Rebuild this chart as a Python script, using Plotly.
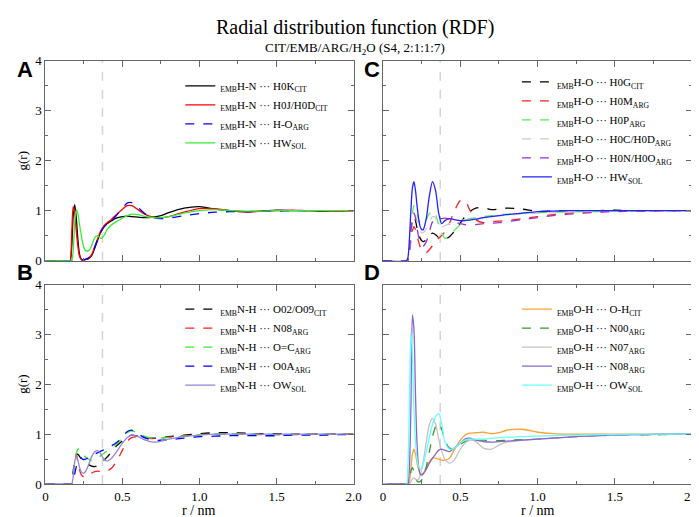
import plotly.graph_objects as go

# shared r grid (nm)
r = [0.00, 0.15, 0.16, 0.17, 0.18, 0.19, 0.20, 0.21, 0.22, 0.23, 0.24, 0.25, 0.26,
     0.28, 0.30, 0.32, 0.34, 0.36, 0.38, 0.40, 0.43, 0.46, 0.50, 0.53, 0.56, 0.60,
     0.65, 0.70, 0.75, 0.80, 0.90, 1.00, 1.10, 1.20, 1.30, 1.40, 1.50, 1.60, 1.70,
     1.80, 1.90, 2.00]

x_tickvals = [0, 0.5, 1.0, 1.5, 2.0]
x_ticktext = ["0", "0.5", "1.0", "1.5", "2.0"]
y_tickvals = [0, 1, 2, 3, 4]

# panel A: EMB H-N
a_h0k_cit = [0, 0, 0, 0.25, 0.9, 1.12, 0.85, 0.45, 0.15, 0.04, 0.01, 0.01, 0.02,
             0.04, 0.1, 0.25, 0.42, 0.58, 0.68, 0.74, 0.8, 0.85, 0.88, 0.89, 0.88, 0.87,
             0.86, 0.87, 0.9, 0.96, 1.05, 1.08, 1.03, 1.0, 0.98, 0.99, 1.01, 1.0, 1.0,
             0.99, 1.0, 1.0]
a_h0j_cit = [0, 0, 0, 0.5, 1.08, 0.95, 0.6, 0.3, 0.1, 0.03, 0.01, 0.01, 0.02,
             0.05, 0.12, 0.28, 0.45, 0.6, 0.7, 0.76, 0.83, 0.92, 1.03, 1.1, 1.1, 1.02,
             0.92, 0.87, 0.86, 0.88, 0.97, 1.04, 1.04, 1.0, 0.97, 0.99, 1.0, 1.01, 1.0,
             1.0, 0.99, 1.0]
a_ho_arg = [0, 0, 0, 0, 0, 0, 0, 0, 0, 0.01, 0.01, 0.02, 0.03,
            0.06, 0.13, 0.27, 0.43, 0.57, 0.67, 0.73, 0.8, 0.9, 1.05, 1.15, 1.16, 1.07,
            0.93, 0.86, 0.84, 0.85, 0.9, 0.94, 0.97, 0.98, 0.98, 0.99, 0.99, 1.0, 1.0,
            1.0, 1.0, 1.0]
a_hw_sol = [0, 0, 0, 0, 0.2, 0.75, 1.02, 0.95, 0.75, 0.55, 0.38, 0.26, 0.2,
            0.2, 0.3, 0.46, 0.5, 0.44, 0.5, 0.62, 0.72, 0.78, 0.85, 0.9, 0.93, 0.92,
            0.88, 0.86, 0.86, 0.88, 0.95, 1.0, 1.02, 1.0, 0.99, 0.99, 1.0, 1.0, 1.0,
            1.0, 1.0, 1.0]

# panel B: EMB N-H
b_o02_cit = [0, 0, 0, 0, 0.25, 0.5, 0.58, 0.6, 0.56, 0.52, 0.48, 0.45, 0.43,
             0.39, 0.36, 0.35, 0.37, 0.42, 0.48, 0.54, 0.65, 0.76, 0.87, 0.95, 0.98, 0.96,
             0.93, 0.92, 0.93, 0.95, 0.98, 1.01, 1.03, 1.03, 1.02, 1.01, 1.01, 1.0, 1.0,
             1.0, 1.0, 1.0]
b_n08_arg = [0, 0, 0, 0, 0.1, 0.5, 0.6, 0.45, 0.3, 0.2, 0.16, 0.14, 0.14,
             0.17, 0.22, 0.25, 0.26, 0.25, 0.25, 0.26, 0.32, 0.45, 0.68, 0.85, 0.93, 0.95,
             0.93, 0.91, 0.92, 0.94, 0.97, 0.99, 1.0, 1.0, 1.0, 0.99, 0.99, 0.99, 1.0,
             1.0, 1.0, 1.0]
b_oc_arg = [0, 0, 0, 0, 0.15, 0.45, 0.62, 0.7, 0.71, 0.67, 0.62, 0.57, 0.54,
            0.5, 0.47, 0.48, 0.52, 0.57, 0.62, 0.66, 0.72, 0.8, 0.93, 1.03, 1.07, 1.02,
            0.95, 0.92, 0.92, 0.93, 0.96, 0.99, 1.01, 1.01, 1.0, 1.0, 0.99, 0.99, 1.0,
            1.0, 1.0, 1.0]
b_o0a_arg = [0, 0, 0, 0, 0.05, 0.2, 0.35, 0.45, 0.52, 0.53, 0.5, 0.49, 0.5,
             0.53, 0.57, 0.6, 0.63, 0.66, 0.69, 0.72, 0.77, 0.83, 0.94, 1.05, 1.08, 1.01,
             0.92, 0.88, 0.88, 0.89, 0.92, 0.95, 0.96, 0.97, 0.97, 0.97, 0.97, 0.98, 0.98,
             0.98, 0.99, 0.99]
b_ow_sol = [0, 0, 0, 0, 0.15, 0.45, 0.55, 0.48, 0.35, 0.26, 0.22, 0.22, 0.25,
            0.38, 0.55, 0.65, 0.67, 0.6, 0.5, 0.46, 0.52, 0.64, 0.82, 0.93, 0.98, 0.95,
            0.88, 0.84, 0.86, 0.9, 0.95, 0.98, 1.0, 1.0, 1.0, 1.0, 1.0, 1.0, 1.0,
            1.0, 1.0, 1.0]

# panel C: EMB H-O
c_h0g_cit = [0, 0, 0, 0.2, 0.55, 0.8, 0.88, 0.8, 0.65, 0.53, 0.45, 0.4, 0.38,
             0.42, 0.5, 0.55, 0.52, 0.46, 0.43, 0.43, 0.48, 0.58, 0.75, 0.88, 0.98, 1.05,
             1.06, 1.02, 1.03, 1.05, 1.03, 0.99, 0.99, 1.0, 1.0, 1.0, 1.01, 1.0, 1.0,
             1.0, 1.0, 1.0]
c_h0m_arg = [0, 0, 0, 0.15, 0.4, 0.6, 0.68, 0.62, 0.5, 0.38, 0.28, 0.21, 0.17,
             0.16, 0.22, 0.3, 0.38, 0.45, 0.5, 0.58, 0.75, 0.98, 1.2, 1.2, 1.02, 0.82,
             0.76, 0.78, 0.79, 0.8, 0.84, 0.88, 0.92, 0.95, 0.97, 0.98, 0.99, 1.0, 1.0,
             1.0, 1.0, 1.0]
c_h0p_arg = [0, 0, 0, 0.2, 0.6, 0.95, 1.1, 1.08, 0.95, 0.82, 0.74, 0.72, 0.73,
             0.82, 0.95, 1.0, 0.92, 0.72, 0.55, 0.45, 0.48, 0.6, 0.72, 0.8, 0.84, 0.86,
             0.88, 0.9, 0.92, 0.93, 0.95, 0.96, 0.97, 0.97, 0.98, 0.98, 0.99, 0.99, 1.0,
             1.0, 1.0, 1.0]
c_h0c_arg = [0, 0, 0, 0.15, 0.5, 0.8, 0.92, 0.9, 0.8, 0.68, 0.6, 0.56, 0.56,
             0.64, 0.78, 0.88, 0.86, 0.74, 0.68, 0.7, 0.74, 0.77, 0.8, 0.82, 0.83, 0.84,
             0.86, 0.88, 0.9, 0.91, 0.93, 0.95, 0.96, 0.97, 0.98, 0.98, 0.99, 0.99, 1.0,
             1.0, 1.0, 1.0]
c_h0n_arg = [0, 0, 0, 0.15, 0.55, 0.85, 0.95, 0.85, 0.65, 0.48, 0.36, 0.3, 0.29,
             0.38, 0.58, 0.78, 0.85, 0.84, 0.84, 0.85, 0.83, 0.78, 0.74, 0.72, 0.71, 0.72,
             0.74, 0.75, 0.76, 0.78, 0.82, 0.86, 0.9, 0.93, 0.95, 0.97, 0.98, 0.99, 0.99,
             1.0, 1.0, 1.0]
c_hw_sol = [0, 0, 0.05, 0.4, 1.0, 1.45, 1.58, 1.4, 1.1, 0.85, 0.68, 0.62, 0.62,
            0.85, 1.3, 1.58, 1.4, 0.95, 0.74, 0.8, 0.84, 0.82, 0.8, 0.8, 0.81, 0.83,
            0.86, 0.88, 0.9, 0.92, 0.95, 0.98, 0.99, 1.0, 1.0, 1.0, 1.0, 1.0, 1.0,
            1.0, 1.0, 1.0]

# panel D: EMB O-H
d_oh_cit = [0, 0, 0, 0.05, 0.3, 0.6, 0.7, 0.6, 0.42, 0.3, 0.22, 0.2, 0.22,
            0.32, 0.45, 0.52, 0.52, 0.5, 0.48, 0.48, 0.52, 0.68, 0.88, 0.98, 1.02, 1.03,
            1.04, 1.01, 1.03, 1.08, 1.1, 1.04, 1.01, 1.0, 1.0, 1.0, 1.0, 1.0, 1.0,
            1.0, 1.0, 1.0]
d_n00_arg = [0, 0, 0, 0.05, 0.25, 0.33, 0.25, 0.12, 0.06, 0.04, 0.05, 0.08, 0.14,
             0.35, 0.65, 0.95, 1.15, 1.22, 1.1, 0.88, 0.72, 0.72, 0.8, 0.85, 0.88, 0.88,
             0.88, 0.87, 0.87, 0.88, 0.89, 0.9, 0.92, 0.94, 0.96, 0.97, 0.98, 0.99, 0.99,
             0.99, 1.0, 1.0]
d_n07_arg = [0, 0, 0, 0, 0.05, 0.1, 0.12, 0.1, 0.08, 0.1, 0.18, 0.3, 0.45,
             0.85, 1.2, 1.32, 1.2, 0.9, 0.65, 0.5, 0.42, 0.48, 0.7, 0.82, 0.88, 0.85,
             0.72, 0.7, 0.78, 0.84, 0.88, 0.9, 0.92, 0.94, 0.96, 0.97, 0.98, 0.99, 0.99,
             1.0, 1.0, 1.0]
d_n08_arg = [0, 0, 0, 0.3, 1.5, 3.4, 3.1, 1.8, 0.8, 0.35, 0.2, 0.18, 0.2,
             0.3, 0.42, 0.52, 0.6, 0.68, 0.7, 0.68, 0.65, 0.72, 0.82, 0.9, 0.92, 0.88,
             0.85, 0.84, 0.85, 0.86, 0.88, 0.9, 0.92, 0.94, 0.96, 0.97, 0.98, 0.99, 0.99,
             1.0, 1.0, 1.0]
d_ow_sol = [0, 0, 0.3, 1.5, 3.05, 2.6, 1.5, 0.85, 0.5, 0.35, 0.3, 0.32, 0.4,
            0.65, 0.95, 1.2, 1.35, 1.42, 1.2, 0.85, 0.7, 0.72, 0.82, 0.88, 0.9, 0.9,
            0.9, 0.92, 0.93, 0.94, 0.95, 0.96, 0.97, 0.98, 0.98, 0.99, 0.99, 1.0, 1.0,
            1.0, 1.0, 1.0]

SERIF = "Liberation Serif, Times New Roman, DejaVu Serif, serif"
SANS = "Liberation Sans, Arial, sans-serif"

panels = {
    "A": ("x", "y", "legend", [
        ("<sub>EMB</sub>H-N ··· H0K<sub>CIT</sub>", a_h0k_cit, "#000000", "solid"),
        ("<sub>EMB</sub>H-N ··· H0J/H0D<sub>CIT</sub>", a_h0j_cit, "#ff0000", "solid"),
        ("<sub>EMB</sub>H-N ··· H-O<sub>ARG</sub>", a_ho_arg, "#0000ff", "dash"),
        ("<sub>EMB</sub>H-N ··· HW<sub>SOL</sub>", a_hw_sol, "#33ee33", "solid"),
    ]),
    "C": ("x2", "y2", "legend2", [
        ("<sub>EMB</sub>H-O ··· H0G<sub>CIT</sub>", c_h0g_cit, "#000000", "dash"),
        ("<sub>EMB</sub>H-O ··· H0M<sub>ARG</sub>", c_h0m_arg, "#ff2020", "dash"),
        ("<sub>EMB</sub>H-O ··· H0P<sub>ARG</sub>", c_h0p_arg, "#55ee55", "dash"),
        ("<sub>EMB</sub>H-O ··· H0C/H0D<sub>ARG</sub>", c_h0c_arg, "#cccccc", "dash"),
        ("<sub>EMB</sub>H-O ··· H0N/H0O<sub>ARG</sub>", c_h0n_arg, "#9933cc", "dash"),
        ("<sub>EMB</sub>H-O ··· HW<sub>SOL</sub>", c_hw_sol, "#2222ff", "solid"),
    ]),
    "B": ("x3", "y3", "legend3", [
        ("<sub>EMB</sub>N-H ··· O02/O09<sub>CIT</sub>", b_o02_cit, "#000000", "dash"),
        ("<sub>EMB</sub>N-H ··· N08<sub>ARG</sub>", b_n08_arg, "#ff2020", "dash"),
        ("<sub>EMB</sub>N-H ··· O=C<sub>ARG</sub>", b_oc_arg, "#33ee33", "dash"),
        ("<sub>EMB</sub>N-H ··· O0A<sub>ARG</sub>", b_o0a_arg, "#0000ff", "dash"),
        ("<sub>EMB</sub>N-H ··· OW<sub>SOL</sub>", b_ow_sol, "#8f86d8", "solid"),
    ]),
    "D": ("x4", "y4", "legend4", [
        ("<sub>EMB</sub>O-H ··· O-H<sub>CIT</sub>", d_oh_cit, "#ffa030", "solid"),
        ("<sub>EMB</sub>O-H ··· N00<sub>ARG</sub>", d_n00_arg, "#339933", "dash"),
        ("<sub>EMB</sub>O-H ··· N07<sub>ARG</sub>", d_n07_arg, "#c4c4c4", "solid"),
        ("<sub>EMB</sub>O-H ··· N08<sub>ARG</sub>", d_n08_arg, "#8866cc", "solid"),
        ("<sub>EMB</sub>O-H ··· OW<sub>SOL</sub>", d_ow_sol, "#66ffff", "solid"),
    ]),
}

fig = go.Figure()
for key, (xa, ya, lg, series) in panels.items():
    for name, vals, col, dash in series:
        fig.add_trace(go.Scatter(
            x=r, y=vals, name=name, mode="lines", xaxis=xa, yaxis=ya, legend=lg,
            line=dict(color=col, dash=dash, width=1.3, shape="spline", smoothing=0.8),
        ))
    # cutoff marker
    fig.add_shape(type="line", xref=xa, yref=ya, x0=0.37, x1=0.37, y0=0, y1=4,
                  line=dict(color="#d4d4d4", width=1.5, dash="dash"), layer="below")

W, H = 699, 517
left_dom = [35 / W, 348 / W]
right_dom = [378 / W, 692 / W]
top_dom = [1 - 253 / H, 1 - 47 / H]
bot_dom = [1 - 483 / H, 1 - 278 / H]

def xax(dom, labels):
    return dict(domain=dom, range=[0, 2], tickvals=x_tickvals, ticktext=x_ticktext,
                showticklabels=labels, ticks="inside", ticklen=6, tickcolor="#666",
                minor=dict(ticks="inside", ticklen=3, dtick=0.25, tickcolor="#666"),
                showline=True, linecolor="#666", linewidth=1, mirror="ticks",
                showgrid=False, zeroline=False,
                tickfont=dict(family=SERIF, size=13, color="black"))

def yax(dom, anchor, labels):
    return dict(domain=dom, range=[0, 4], anchor=anchor, tickvals=y_tickvals,
                showticklabels=labels, ticks="inside", ticklen=6, tickcolor="#666",
                minor=dict(ticks="inside", ticklen=3, dtick=0.5, tickcolor="#666"),
                showline=True, linecolor="#666", linewidth=1, mirror="ticks",
                showgrid=False, zeroline=False,
                tickfont=dict(family=SERIF, size=13, color="black"))

def leg(x, y):
    return dict(x=x, y=y, xanchor="left", yanchor="top", bgcolor="rgba(0,0,0,0)",
                font=dict(family=SERIF, size=11, color="black"), itemwidth=30,
                tracegroupgap=0)

fig.update_layout(
    width=W, height=H, margin=dict(l=0, r=0, t=0, b=0),
    paper_bgcolor="white", plot_bgcolor="white", showlegend=True,
    xaxis=dict(xax(left_dom, False), anchor="y"),
    yaxis=yax(top_dom, "x", True),
    xaxis2=dict(xax(right_dom, False), anchor="y2"),
    yaxis2=yax(top_dom, "x2", False),
    xaxis3=dict(xax(left_dom, True), anchor="y3"),
    yaxis3=yax(bot_dom, "x3", True),
    xaxis4=dict(xax(right_dom, True), anchor="y4"),
    yaxis4=yax(bot_dom, "x4", False),
    legend=leg(172 / W, 1 - 58 / H),
    legend2=leg(514 / W, 1 - 54 / H),
    legend3=leg(172 / W, 1 - 288 / H),
    legend4=leg(514 / W, 1 - 288 / H),
)

annots = [
    dict(text="Radial distribution function (RDF)", x=0.5, y=1 - 13 / H, size=20, family=SERIF),
    dict(text="CIT/EMB/ARG/H<sub>2</sub>O (S4, 2:1:1:7)", x=0.5, y=1 - 34 / H, size=13, family=SERIF),
    dict(text="<b>A</b>", x=14 / W, y=1 - 56 / H, size=22, family=SANS),
    dict(text="<b>B</b>", x=14 / W, y=1 - 265 / H, size=22, family=SANS),
    dict(text="<b>C</b>", x=367 / W, y=1 - 56 / H, size=22, family=SANS),
    dict(text="<b>D</b>", x=367 / W, y=1 - 265 / H, size=22, family=SANS),
    dict(text="r / nm", x=191 / W, y=1 - 510 / H, size=14, family=SERIF),
    dict(text="r / nm", x=535 / W, y=1 - 510 / H, size=14, family=SERIF),
]
for a in annots:
    fig.add_annotation(text=a["text"], x=a["x"], y=a["y"], xref="paper", yref="paper",
                       showarrow=False, xanchor="center", yanchor="middle",
                       font=dict(family=a["family"], size=a["size"], color="black"))

for yc in [150, 380]:
    fig.add_annotation(text="g(r)", x=12 / W, y=1 - yc / H, xref="paper", yref="paper",
                       showarrow=False, textangle=-90, xanchor="center", yanchor="middle",
                       font=dict(family=SERIF, size=13, color="black"))

fig.write_html("out.html")
